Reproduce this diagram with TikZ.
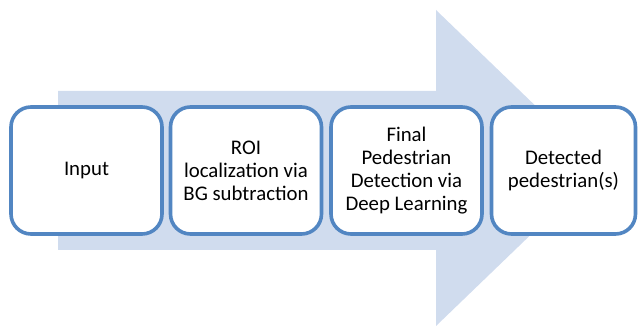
\documentclass[tikz,border=0pt]{standalone}
\usepackage{fontspec}
\setmainfont{Carlito}
\definecolor{boxblue}{HTML}{5286C2}
\definecolor{arrowfill}{HTML}{D0DCEE}
\begin{document}
\begin{tikzpicture}[x=1pt,y=1pt,
  stage/.style={draw=boxblue, line width=3.6pt, fill=white, rounded corners=20pt,
    minimum height=127pt, align=center, inner sep=2pt,
    font=\fontsize{20.8}{23}\selectfont}]
\useasboundingbox (0,0) rectangle (638,326);
% background arrow
\fill[arrowfill] (58,235) -- (436,235) -- (436,316) -- (600,158) -- (436,0) -- (436,76) -- (58,76) -- cycle;
\node[stage, minimum width=151pt] (in) at (86.5,155.5) {Input};
\node[stage, minimum width=151pt] (roi) at (246,155.5) {ROI\\localization via\\BG subtraction};
\node[stage, minimum width=151pt] (fin) at (406.5,155.5) {Final\\Pedestrian\\Detection via\\Deep Learning};
\node[stage, minimum width=144pt] (det) at (563.5,155.5) {Detected\\pedestrian(s)};
\end{tikzpicture}
\end{document}
